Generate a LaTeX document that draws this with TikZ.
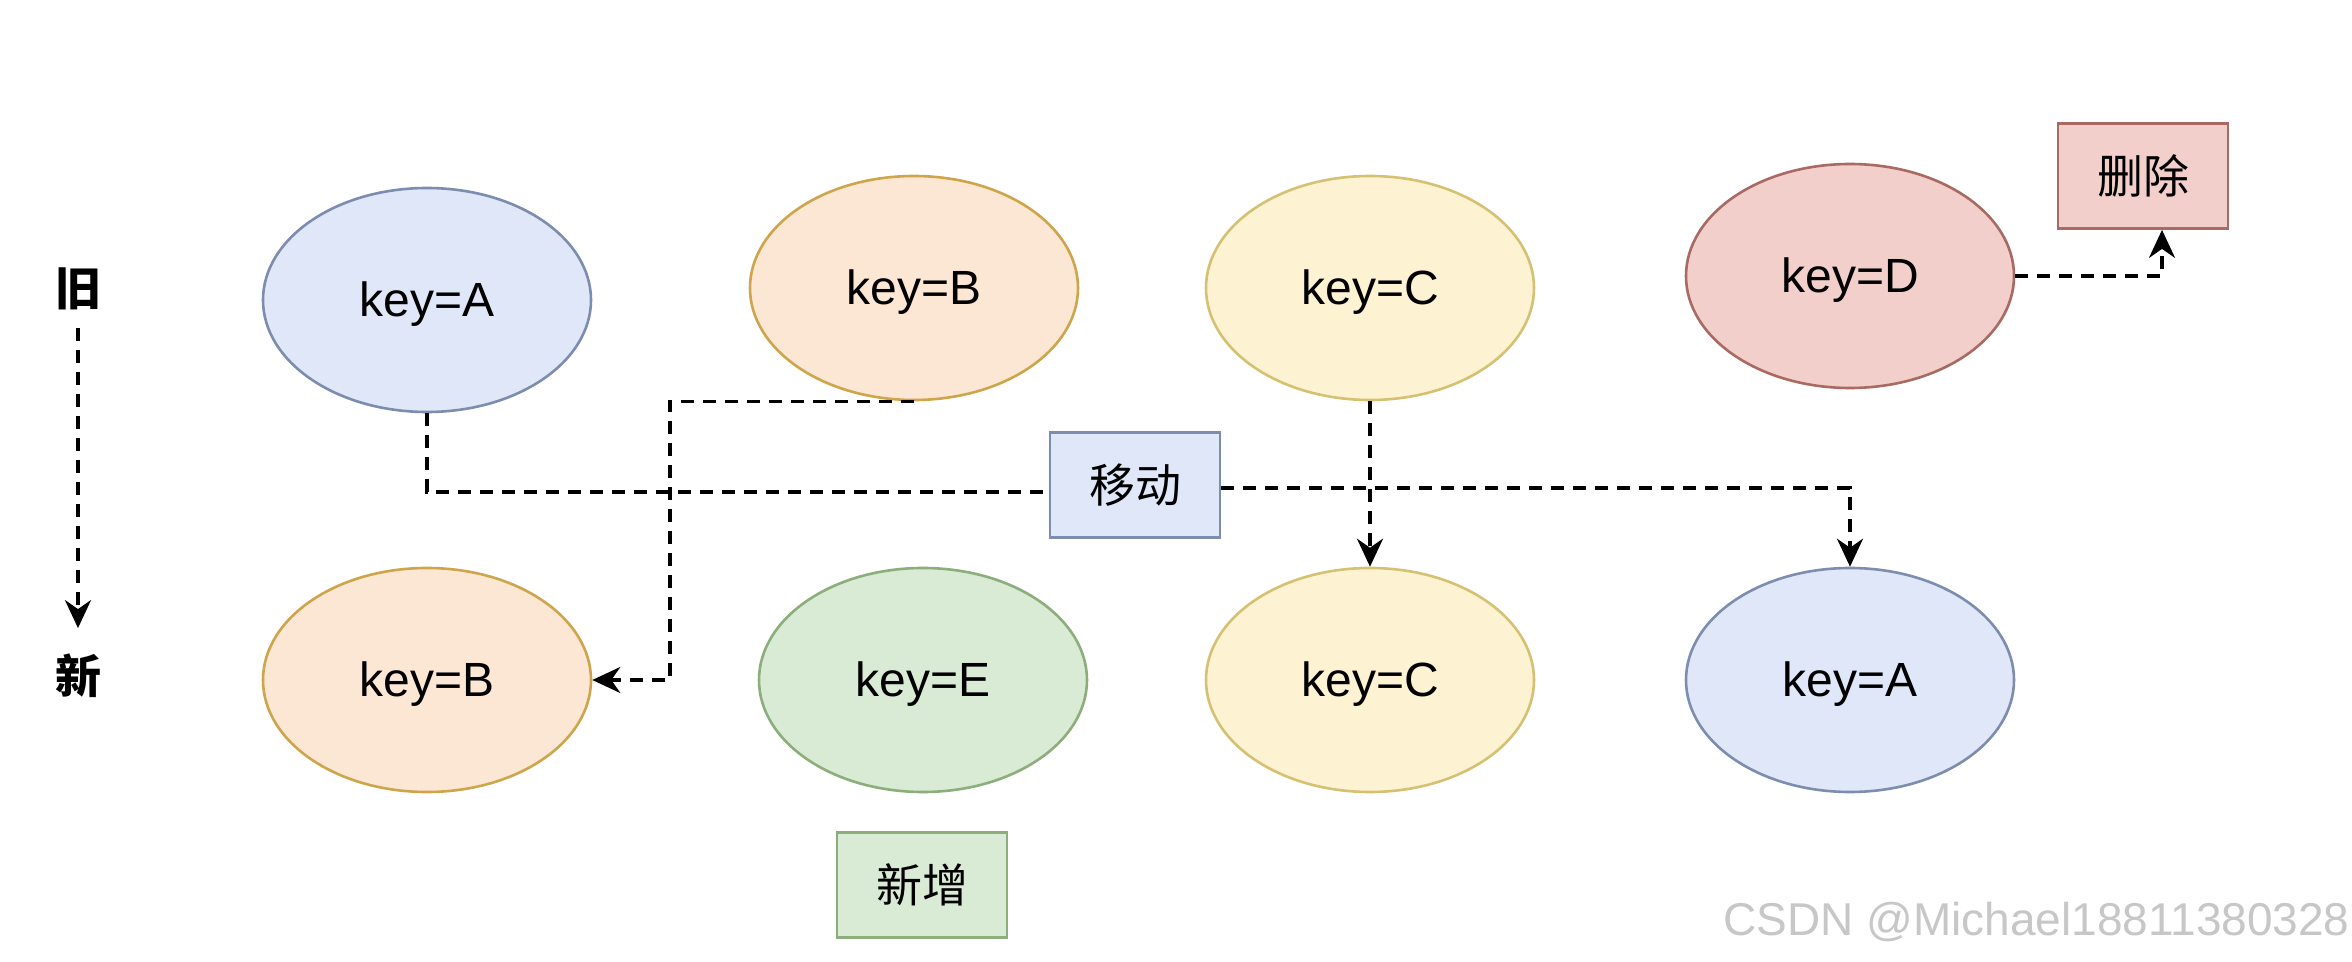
\documentclass[tikz,border=0pt]{standalone}
\usepackage{fontspec}
\setmainfont{Liberation Sans}
\newfontfamily\cjk{Noto Sans CJK SC}
\usetikzlibrary{shapes.geometric,arrows.meta,calc}
\definecolor{blueF}{HTML}{DFE7F8}\definecolor{blueS}{HTML}{7D8DB0}
\definecolor{orF}{HTML}{FBE7D3}\definecolor{orS}{HTML}{CFA54C}
\definecolor{yeF}{HTML}{FDF3D2}\definecolor{yeS}{HTML}{D6C173}
\definecolor{reF}{HTML}{F2CFCA}\definecolor{reS}{HTML}{A86A62}
\definecolor{grF}{HTML}{D9EAD5}\definecolor{grS}{HTML}{8CAE7A}
\begin{document}
\begin{tikzpicture}[x=0.5pt,y=-0.5pt,
  keynode/.style={ellipse,draw,line width=1.3pt,minimum width=164pt,minimum height=112pt,inner sep=0pt,
    font=\fontsize{24}{28}\selectfont,text height=17pt,text depth=0pt},
  tagbox/.style={rectangle,draw,line width=1.4pt,minimum width=85pt,minimum height=52.5pt,inner sep=0pt,
    font=\cjk\fontsize{23}{27}\selectfont,text height=17.5pt,text depth=0pt},
  sidelabel/.style={inner sep=0pt,font=\cjk\bfseries\fontsize{23}{27}\selectfont,text height=17.5pt,text depth=0pt},
  link/.style={line width=1.7pt,dash pattern=on 6.5pt off 4.5pt},
  tip/.style={-{Stealth[length=14pt,width=13pt,inset=4.5pt]}}]
\useasboundingbox[fill=white] (0,0) rectangle (2352,962);
% side labels
\node[sidelabel] (old) at (78,288) {旧};
\node[sidelabel] (new) at (78,676) {新};
\draw[link,tip,shorten <=11pt,shorten >=15pt] (old.south) -- (new.north);
% old row
\node[keynode,fill=blueF,draw=blueS] (a1) at (427,300) {key=A};
\node[keynode,fill=orF,draw=orS] (b1) at (914,288) {key=B};
\node[keynode,fill=yeF,draw=yeS] (c1) at (1370,288) {key=C};
\node[keynode,fill=reF,draw=reS] (d1) at (1850,276) {key=D};
% new row
\node[keynode,fill=orF,draw=orS] (b2) at (427,680) {key=B};
\node[keynode,fill=grF,draw=grS] (e2) at (923,680) {key=E};
\node[keynode,fill=yeF,draw=yeS] (c2) at (1370,680) {key=C};
\node[keynode,fill=blueF,draw=blueS] (a2) at (1850,680) {key=A};
% tags
\node[tagbox,fill=reF,draw=reS] (del) at (2143,176) {删除};
\node[tagbox,fill=blueF,draw=blueS] (move) at (1135,485) {移动};
\node[tagbox,fill=grF,draw=grS] (add) at (922,885) {新增};
% connectors
\coordinate (bturn) at (670,540);
\draw[link,tip] (b1.south) -| (bturn) |- (b2.east);
\draw[link] (a1.south) |- ([yshift=-3.5pt]move.west);
\draw[link,tip] ([yshift=-1.5pt]move.east) -| (a2.north);
\draw[link,tip] (c1.south) -- (c2.north);
\draw[link,tip] (d1.east) -| ([xshift=9.5pt]del.south);
% watermark
\node[anchor=east,inner sep=0pt,text=black!22,font=\fontsize{23}{27}\selectfont] (wm) at (2350,922) {CSDN @Michael18811380328};
\end{tikzpicture}
\end{document}
